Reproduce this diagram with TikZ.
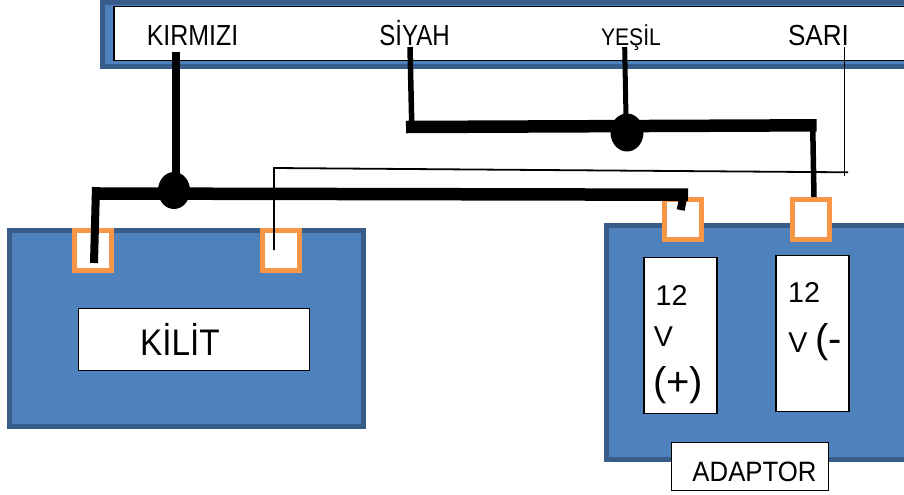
\documentclass[tikz,border=0pt]{standalone}
\usepackage{fontspec}
\setmainfont{Liberation Sans}
\usetikzlibrary{shapes.geometric}
\definecolor{govde}{HTML}{4F81BD}
\definecolor{kenar}{HTML}{385D8A}
\definecolor{uc}{HTML}{F79646}
\begin{document}
\begin{tikzpicture}[x=0.75pt,y=-0.75pt,
    boyut/.style 2 args={minimum width=#1*0.75pt,minimum height=#2*0.75pt,inner sep=0pt},
    govdekutu/.style={draw=kenar,fill=govde,line width=3.75pt},
    beyazkutu/.style={draw=black,fill=white,line width=0.9pt},
    terminal/.style={draw=uc,fill=white,line width=3.75pt,boyut={37}{40}},
    yazi/.style={font=\fontsize{#1}{#1}\selectfont,anchor=base,inner sep=0pt,transform shape},
    kalin/.style={line width=#1*0.75pt},
    ince/.style={line width=1.35pt},
    dugum/.style={ellipse,fill=black,inner sep=0pt}]
    \useasboundingbox (0,0) rectangle (904,494);
    \clip (0,0) rectangle (904,494);

    % connector strip
    \node[govdekutu,boyut={828}{64}] (serit) at (516,34.5) {};
    \node[beyazkutu,boyut={816}{54}] (seritic) at (522,33.5) {};
    \node[yazi=21.75,xscale=0.86] (kirmizi) at (192.5,45) {KIRMIZI};
    \node[yazi=21.75,xscale=0.83] (siyah) at (414.5,45) {SİYAH};
    \node[yazi=18,xscale=0.88] (yesil) at (631,45) {YEŞİL};
    \node[yazi=21.75,xscale=0.9] (sari) at (818.5,45) {SARI};

    % lock
    \node[govdekutu,boyut={354.5}{196}] (kilit) at (186.25,328.5) {};
    \node[beyazkutu,boyut={231}{62}] (kilitetiket) at (194,339.5) {};
    \node[yazi=27.75,xscale=0.9] (kilityazi) at (180,355) {KİLİT};
    \node[terminal] (kilitsol) at (93,250.5) {};
    \node[terminal] (kilitsag) at (281,250.5) {};

    % adaptor
    \node[govdekutu,boyut={324}{234}] (adaptor) at (768,342) {};
    \node[terminal] (adaptorsol) at (682.5,219.5) {};
    \node[terminal] (adaptorsag) at (810.5,219.5) {};
    \node[beyazkutu,boyut={73}{156.5}] (arti) at (680.5,335.5) {};
    \node[beyazkutu,boyut={73}{156.5}] (eksi) at (812.5,333.5) {};
    \node[yazi=21.5] (artion) at (671.5,305) {12};
    \node[yazi=21.5] (artiv) at (663.5,346) {V};
    \node[yazi=30] (artiisaret) at (678,395) {(+)};
    \node[yazi=21.5] (eksion) at (804,302.5) {12};
    \node[yazi=21.5,anchor=base west] (eksiv) at (788,352) {V {\fontsize{30}{30}\selectfont (-}};
    \node[beyazkutu,boyut={157}{48}] (adaptoretiket) at (750,466.3) {};
    \node[yazi=21,xscale=0.92] (adaptoryazi) at (754.5,481.7) {ADAPTOR};

    % wire ends
    \coordinate (k1) at (176,52);
    \coordinate (k2) at (176,178);
    \coordinate (a1) at (94,263);
    \coordinate (a2) at (96,187);
    \coordinate (a3) at (92,193.5);
    \coordinate (a4) at (688,194.7);
    \coordinate (a5) at (682.7,200);
    \coordinate (a6) at (680.7,210);
    \coordinate (s1) at (410,47);
    \coordinate (s2) at (411.7,122);
    \coordinate (b1) at (406,127);
    \coordinate (b2) at (816.7,125.3);
    \coordinate (y1) at (624.7,47);
    \coordinate (y2) at (626,118);
    \coordinate (e1) at (812.7,125);
    \coordinate (e2) at (814,197);
    \coordinate (n1) at (844.5,47);
    \coordinate (n2) at (844.5,176);
    \coordinate (n3) at (848,172.3);
    \coordinate (n4) at (274,168);
    \coordinate (n5) at (274,250);

    % thin wire
    \draw[ince] (n1) -- (n2);
    \draw[ince] (n3) -- (n4) -- (n5);

    % thick wires
    \draw[kalin=8] (a1) -- (a2);
    \draw[kalin=12.5] (a3) -- (a4);
    \draw[kalin=8] (a5) -- (a6);
    \draw[kalin=8] (k1) -- (k2);
    \node[dugum,boyut={32}{37}] (dugumk) at (174,190.5) {};
    \draw[kalin=5.5] (s1) -- (s2);
    \draw[kalin=12.5] (b1) -- (b2);
    \draw[kalin=5] (y1) -- (y2);
    \draw[kalin=5.5] (e1) -- (e2);
    \node[dugum,boyut={33}{38}] (dugumy) at (627,132.5) {};
\end{tikzpicture}
\end{document}
